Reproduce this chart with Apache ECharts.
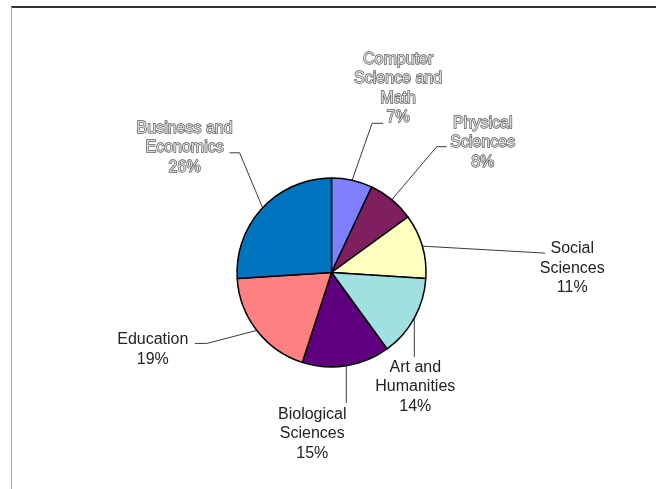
<!DOCTYPE html>
<html>
<head>
<meta charset="utf-8">
<script src="https://cdn.jsdelivr.net/npm/echarts@6/dist/echarts.min.js"></script>
<style>
  html, body { margin: 0; padding: 0; background: #fff; }
  #chart { width: 656px; height: 489px; }
</style>
</head>
<body>
<div id="chart"></div>
<script>
// Degree fields and their share of all degrees (percent), clockwise from 12 o'clock
const categories = [
  'Computer\nScience and\nMath',
  'Physical\nSciences',
  'Social\nSciences',
  'Art and\nHumanities',
  'Biological\nSciences',
  'Education',
  'Business and\nEconomics'
];
const shares = [7, 8, 11, 14, 15, 19, 26];

// Slice fills
const sliceColors = ['#8080FF', '#7F1F5F', '#FFFFC0', '#A0E0E0', '#5F007F', '#FF8080', '#0074BE'];

// Leader-line shape per slice: elbow offset from the slice edge, horizontal tail,
// and where the label block sits relative to the line end.
const guideElbow = [[20, -57], [45, -53], [123, 7], [0, 39], [0, 37], [-50, 13], [-23, -55]];
const guideTail = [11, 10, 0, 0, 0, -12, -10];
const labelShift = [[15, -34.5], [36, -4], [27, 15], [1, 30], [-34, 31], [-42, 6], [-45, -5]];

// Labels drawn in the hollow/outlined style
const hollowLabels = [0, 1, 6];

const chart = echarts.init(document.getElementById('chart'), null, { renderer: 'canvas' });

const pieData = categories.map((name, i) => {
  const item = { name: name, value: shares[i], itemStyle: { color: sliceColors[i] } };
  if (hollowLabels.indexOf(i) >= 0) {
    item.label = { color: '#dcdcdc', textBorderColor: '#5a5a5a', textBorderWidth: 1.3 };
  }
  return item;
});

chart.setOption({
  animation: false,
  backgroundColor: '#ffffff',
  graphic: [
    { type: 'rect', shape: { x: 11, y: 6, width: 645, height: 2 }, style: { fill: '#333' }, silent: true },
    { type: 'line', shape: { x1: 11.5, y1: 7, x2: 11.5, y2: 489 }, style: { stroke: '#aaa', lineWidth: 1 }, silent: true }
  ],
  series: [{
    type: 'pie',
    center: [331.5, 272.5],
    radius: 94.5,
    startAngle: 90,
    clockwise: true,
    avoidLabelOverlap: false,
    itemStyle: { borderColor: '#000', borderWidth: 1.5 },
    label: {
      show: true,
      formatter: '{b}\n{c}%',
      fontFamily: '"Liberation Sans", Arial, sans-serif',
      fontSize: 16,
      lineHeight: 19.5,
      color: '#222'
    },
    labelLine: {
      show: true,
      length: 20,
      length2: 10,
      lineStyle: { color: '#3a3a3a', width: 1 }
    },
    emphasis: { disabled: true },
    labelLayout: function (params) {
      const i = params.dataIndex;
      const pts = params.labelLinePoints;
      if (!pts || !pts.length) return {};
      const p0 = pts[0];
      const elbow = [p0[0] + guideElbow[i][0], p0[1] + guideElbow[i][1]];
      const end = [elbow[0] + guideTail[i], elbow[1]];
      return {
        x: end[0] + labelShift[i][0],
        y: end[1] + labelShift[i][1],
        align: 'center',
        verticalAlign: 'middle',
        labelLinePoints: [p0, elbow, end]
      };
    },
    data: pieData
  }]
});
</script>
</body>
</html>
